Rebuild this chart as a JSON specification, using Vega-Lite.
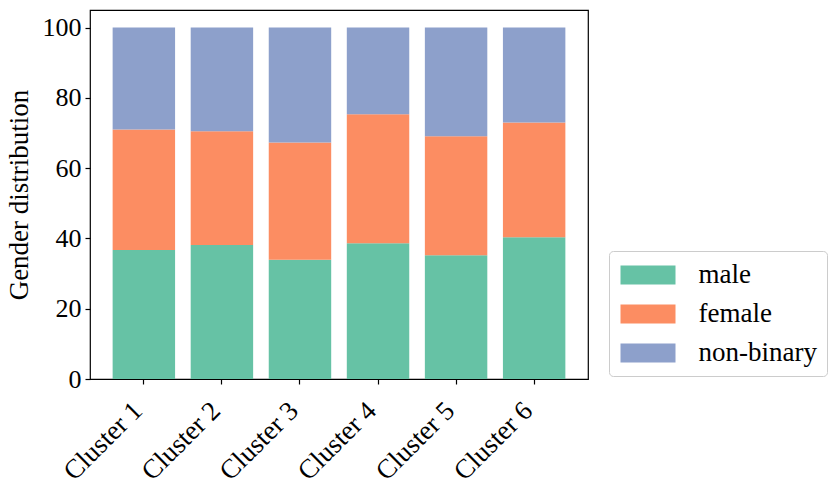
{
  "$schema": "https://vega.github.io/schema/vega-lite/v6.json",
  "width": 498,
  "height": 369,
  "autosize": {"type": "none"},
  "padding": {"left": 90, "top": 10, "right": 252, "bottom": 110},
  "background": "white",
  "config": {
    "font": "Liberation Serif",
    "view": {"stroke": "black", "strokeWidth": 1.2},
    "axis": {"grid": false, "domainColor": "black", "tickColor": "black", "labelColor": "black", "titleColor": "black", "labelFont": "Liberation Serif", "titleFont": "Liberation Serif", "titleFontWeight": "normal", "tickSize": 5, "domainWidth": 1.2, "tickWidth": 1.2}
  },
  "data": {"values": [
    {"cluster": "Cluster 1", "gender": "male", "order": 0, "value": 36.7},
    {"cluster": "Cluster 1", "gender": "female", "order": 1, "value": 34.3},
    {"cluster": "Cluster 1", "gender": "non-binary", "order": 2, "value": 29.0},
    {"cluster": "Cluster 2", "gender": "male", "order": 0, "value": 38.1},
    {"cluster": "Cluster 2", "gender": "female", "order": 1, "value": 32.4},
    {"cluster": "Cluster 2", "gender": "non-binary", "order": 2, "value": 29.5},
    {"cluster": "Cluster 3", "gender": "male", "order": 0, "value": 33.9},
    {"cluster": "Cluster 3", "gender": "female", "order": 1, "value": 33.4},
    {"cluster": "Cluster 3", "gender": "non-binary", "order": 2, "value": 32.7},
    {"cluster": "Cluster 4", "gender": "male", "order": 0, "value": 38.6},
    {"cluster": "Cluster 4", "gender": "female", "order": 1, "value": 36.7},
    {"cluster": "Cluster 4", "gender": "non-binary", "order": 2, "value": 24.7},
    {"cluster": "Cluster 5", "gender": "male", "order": 0, "value": 35.2},
    {"cluster": "Cluster 5", "gender": "female", "order": 1, "value": 33.9},
    {"cluster": "Cluster 5", "gender": "non-binary", "order": 2, "value": 30.9},
    {"cluster": "Cluster 6", "gender": "male", "order": 0, "value": 40.3},
    {"cluster": "Cluster 6", "gender": "female", "order": 1, "value": 32.7},
    {"cluster": "Cluster 6", "gender": "non-binary", "order": 2, "value": 27.0}
  ]},
  "mark": {"type": "bar"},
  "encoding": {
    "x": {
      "field": "cluster", "type": "nominal", "sort": null,
      "scale": {"paddingInner": 0.2, "paddingOuter": 0.29},
      "axis": {"title": null, "labelAngle": -45, "labelAlign": "right", "labelBaseline": "top", "labelFontSize": 27, "labelPadding": 13, "labelOffset": -15, "domain": false}
    },
    "y": {
      "field": "value", "type": "quantitative", "stack": "zero",
      "scale": {"domain": [0, 105], "nice": false},
      "axis": {"title": "Gender distribution", "titleFontSize": 27, "labelFontSize": 26, "values": [0, 20, 40, 60, 80, 100], "titlePadding": 9, "labelPadding": 4, "domain": false}
    },
    "color": {
      "field": "gender", "type": "nominal",
      "sort": ["male", "female", "non-binary"],
      "scale": {"domain": ["male", "female", "non-binary"], "range": ["#66c2a5", "#fc8d62", "#8da0cb"]},
      "legend": {
        "title": null, "orient": "none", "legendX": 519, "legendY": 241,
        "symbolType": "M-2,-0.69H2V0.69H-2Z", "symbolSize": 756.25, "symbolStrokeWidth": 0, "symbolOpacity": 1,
        "labelFontSize": 27, "labelFont": "Liberation Serif", "labelColor": "black", "labelOffset": 36.5,
        "strokeColor": "#cccccc", "fillColor": "white", "cornerRadius": 4, "padding": 10, "symbolOffset": 15, "rowPadding": 12, "titlePadding": 0
      }
    },
    "order": {"field": "order", "type": "quantitative"}
  }
}
